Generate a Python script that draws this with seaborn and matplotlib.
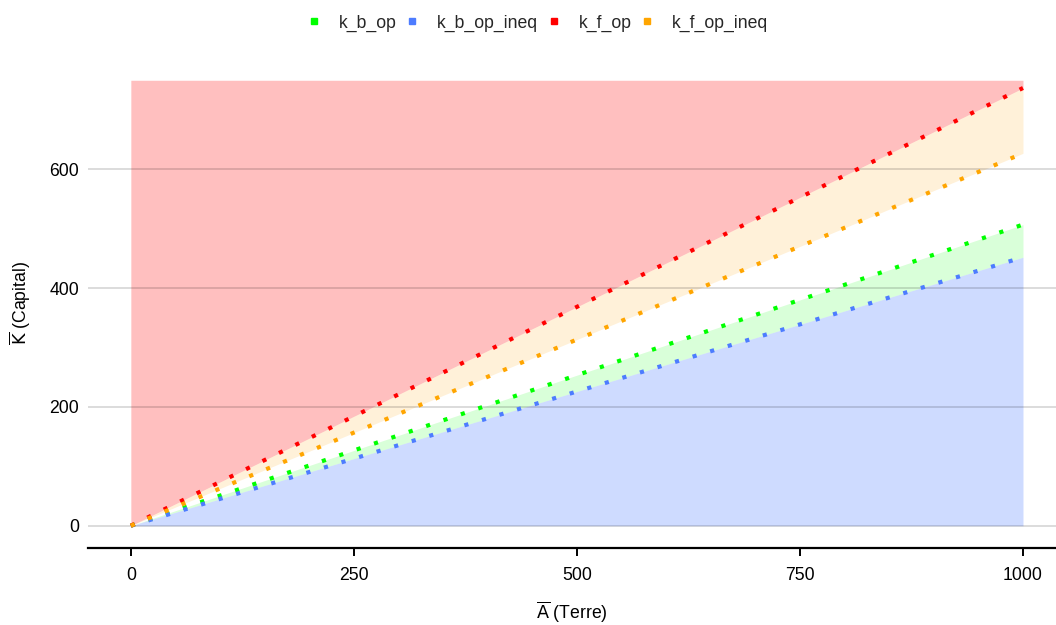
import numpy as np
import pandas as pd
import matplotlib
matplotlib.use("Agg")
import matplotlib.pyplot as plt
from matplotlib.lines import Line2D
import seaborn as sns

# ---- data ----
A_bar = [0, 250, 500, 750, 1000]
k_b_op = [0, 126.75, 253.5, 380.25, 507]
k_b_op_ineq = [0, 113.0, 226.0, 339.0, 452]
k_f_op = [0, 184.25, 368.5, 552.75, 737]
k_f_op_ineq = [0, 156.75, 313.5, 470.25, 627]
k_top = 750
series_names = ["k_b_op", "k_b_op_ineq", "k_f_op", "k_f_op_ineq"]
series_colors = ["#00FF00", "#4D7CFF", "#FF0000", "#FFA500"]
x_ticks = [0, 250, 500, 750, 1000]
y_ticks = [0, 200, 400, 600]

FS = 12.7

sns.set_theme(style="white")
plt.rcParams["font.family"] = ["Liberation Sans", "DejaVu Sans"]

fig = plt.figure(figsize=(10.56, 6.25), dpi=100)
ax = fig.add_axes([88 / 1056, 1 - 548 / 625, 1 - 88 / 1056, (548 - 58) / 625])

x = np.array(A_bar, dtype=float)
# fills
ax.fill_between(x, k_f_op, k_top, color="#FF0000", alpha=0.25, lw=0, zorder=0.8)
ax.fill_between(x, k_f_op_ineq, k_f_op, color="#FFA500", alpha=0.15, lw=0, zorder=0.8)
ax.fill_between(x, k_b_op_ineq, k_b_op, color="#00FF00", alpha=0.15, lw=0, zorder=0.8)
ax.fill_between(x, 0, k_b_op_ineq, color="#4D7CFF", alpha=0.27, lw=0, zorder=0.8)

df = pd.DataFrame({"A": A_bar, "k_b_op": k_b_op, "k_b_op_ineq": k_b_op_ineq,
                   "k_f_op": k_f_op, "k_f_op_ineq": k_f_op_ineq})
for name, col in zip(series_names, series_colors):
    sns.lineplot(data=df, x="A", y=name, color=col, lw=3.0, ax=ax, legend=False, zorder=3)
    ln = ax.lines[-1]
    ln.set_dashes((1, 3.4))
    ln.set_dash_capstyle("butt")

ax.set_xlim(-48, 1037)
ax.set_ylim(-37.5, 787.5)
ax.set_xticks(x_ticks)
ax.set_yticks(y_ticks)
ax.set_axisbelow("line")
ax.yaxis.grid(True, color="black", alpha=0.14, lw=1.4)
ax.xaxis.grid(False)

for s in ["top", "right", "left"]:
    ax.spines[s].set_visible(False)
ax.spines["bottom"].set_color("black")
ax.spines["bottom"].set_linewidth(1.6)
ax.tick_params(axis="x", bottom=True, length=6, width=1.4, color="black",
               labelsize=FS, labelcolor="black", pad=8)
ax.tick_params(axis="y", left=False, length=0, labelsize=FS, labelcolor="black", pad=6.5)

ax.set_xlabel(r"$\overline{\mathrm{A}}$ (Terre)", fontsize=FS, color="black", labelpad=11)
ax.set_ylabel(r"$\overline{\mathrm{K}}$ (Capital)", fontsize=FS, color="black", labelpad=12)

handles = [Line2D([], [], marker="s", markersize=4.2, linestyle="none",
                  markerfacecolor=c, markeredgecolor=c) for c in series_colors]
fig.legend(handles, series_names, loc="center", bbox_to_anchor=(0.509, 0.963), ncol=4,
           frameon=False, fontsize=FS, handletextpad=1.0, columnspacing=0.5, handlelength=0.8)

fig.savefig("out.png", dpi=100)
